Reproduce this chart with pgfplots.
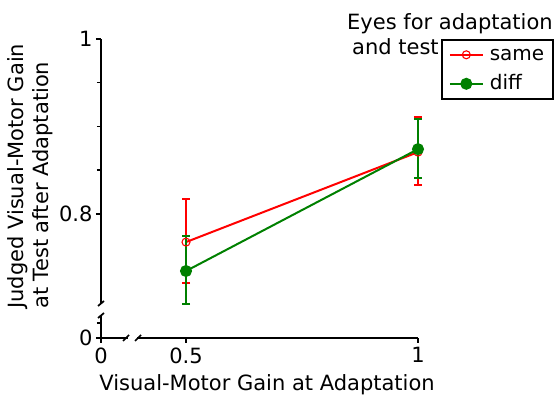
\documentclass[border=0pt]{standalone}
\usepackage{fontspec}
\setmainfont{DejaVu Sans}
\usepackage{pgfplots}
\pgfplotsset{compat=1.18}
\definecolor{rd}{RGB}{255,0,0}
\definecolor{gr}{RGB}{0,128,0}
\begin{document}
\begin{tikzpicture}[font=\fontsize{21}{25}\selectfont]
\begin{axis}[
  scale only axis, width=317pt, height=299pt,
  xmin=0.3168, xmax=1, ymin=0.658, ymax=1,
  axis lines=left, axis line style={line width=1.8pt,-},
  clip=false,
  xtick={0.3168,0.5,1}, xticklabels={0,0.5,1},
  ytick={0.658,0.8,1}, yticklabels={0,0.8,1},
  minor ytick={0.675,0.85,0.9,0.95},
  tick align=outside, major tick length=5pt, minor tick length=4pt,
  every tick/.style={line width=1.4pt,black},
  every minor tick/.style={line width=1.4pt,black},
  /pgf/number format/assume math mode=true,
  tick label style={font=\fontsize{21}{25}\selectfont},
  xticklabel style={yshift=-1pt},
  legend style={at={(1.0726,1)}, anchor=north west, draw=black, line width=1.6pt,
    font=\fontsize{20}{24}\selectfont, inner xsep=7pt, inner ysep=4pt,
    row sep=7pt, column sep=4pt,
    nodes={inner sep=2pt, text height=15pt, text depth=3pt}},
  legend cell align=left,
  legend image code/.code={\draw[mark repeat=2,mark phase=2] plot coordinates {(0pt,0pt)(16.5pt,0pt)(33pt,0pt)};},
]
\addplot[rd, line width=2pt, mark=o, mark size=4pt, mark options={line width=1.1pt},
  error bars/.cd, y dir=both, y explicit,
  error bar style={line width=1.5pt}, error mark options={rotate=90, mark size=4pt, line width=1.5pt}]
  coordinates {(0.5,0.7677) += (0,0.0492) -= (0,0.0468)
               (1,0.8706) += (0,0.0400) -= (0,0.0377)};
\addlegendentry{same}
\addplot[gr, line width=2pt, mark=*, mark size=5pt,
  error bars/.cd, y dir=both, y explicit,
  error bar style={line width=1.5pt}, error mark options={rotate=90, mark size=4pt, line width=1.5pt}]
  coordinates {(0.5,0.7346) += (0,0.0400) -= (0,0.0377)
               (1,0.8740) += (0,0.0343) -= (0,0.0331)};
\addlegendentry{diff}
\end{axis}
% axis breaks
\fill[white] (-3pt,23pt) rectangle (3pt,35pt);
\draw[line width=1.7pt] (-3pt,32pt) -- (3pt,37pt);
\draw[line width=1.7pt] (-3pt,20pt) -- (3pt,25pt);
\fill[white] (27pt,-2pt) rectangle (36pt,2pt);
\draw[line width=1.7pt] (22pt,-3pt) -- (28pt,3pt);
\draw[line width=1.7pt] (34pt,-3pt) -- (40pt,3pt);
% labels
\node[anchor=base, inner sep=0pt] at (166pt,-53pt) {Visual-Motor Gain at Adaptation};
\node[rotate=90, anchor=south west, align=left, inner sep=0pt] at (-48pt,29pt)
  {Judged Visual-Motor Gain\\at Test after Adaptation};
\node[anchor=base west, inner sep=0pt] at (246pt,308pt) {Eyes for adaptation};
\node[anchor=base west, inner sep=0pt] at (251pt,283pt) {and test};
\pgfresetboundingbox
\useasboundingbox (-101pt,-57pt) rectangle (454pt,338pt);
\end{tikzpicture}
\end{document}
